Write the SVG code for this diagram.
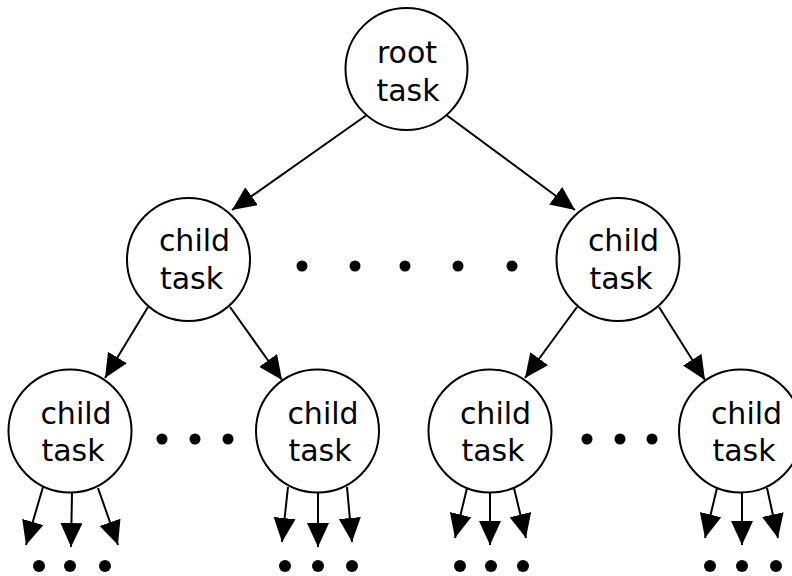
<svg xmlns="http://www.w3.org/2000/svg" width="792" height="576" viewBox="0 0 792 576">
  <style>
    .node circle { fill: #ffffff; stroke: #000000; stroke-width: 2; }
    .node text { font-family: "DejaVu Sans", "Liberation Sans", sans-serif; font-size: 30px; fill: #000000; text-anchor: middle; }
    .edges line { stroke: #000000; stroke-width: 2; marker-end: url(#arrow); }
    .dots circle { fill: #000000; }
  </style>
  <defs>
    <marker id="arrow" markerUnits="userSpaceOnUse" markerWidth="26" markerHeight="23" refX="24" refY="11" orient="auto">
      <path d="M0,0 L24,11 L0,22 z" fill="#000000"/>
    </marker>
  </defs>

  <rect width="792" height="576" fill="#ffffff"/>

  <!-- connectors -->
  <g id="edges" class="edges">
    <line x1="366" y1="115.5" x2="232" y2="210"/>
    <line x1="447" y1="115.5" x2="575" y2="210"/>
    <line x1="148" y1="307" x2="105" y2="378"/>
    <line x1="230" y1="307" x2="282" y2="380"/>
    <line x1="577" y1="307" x2="525" y2="378"/>
    <line x1="659" y1="307" x2="705" y2="380"/>
    <!-- fan-out below the bottom row -->
    <line x1="43" y1="487" x2="26" y2="545"/>
    <line x1="72" y1="493" x2="71" y2="547"/>
    <line x1="98" y1="488" x2="118" y2="545"/>
    <line x1="288" y1="487" x2="282" y2="542"/>
    <line x1="318" y1="493" x2="318" y2="547"/>
    <line x1="347" y1="487" x2="352" y2="542"/>
    <line x1="467" y1="488" x2="455" y2="538"/>
    <line x1="490" y1="493" x2="490" y2="545"/>
    <line x1="514" y1="488" x2="526" y2="538"/>
    <line x1="717" y1="488" x2="705" y2="538"/>
    <line x1="742" y1="493" x2="742" y2="545"/>
    <line x1="767" y1="488" x2="778" y2="538"/>
  </g>

  <!-- nodes -->
  <g id="root" class="node">
    <circle cx="406.5" cy="69" r="61"/>
    <text x="407" y="63">root</text>
    <text x="408" y="101">task</text>
  </g>
  <g id="child-1" class="node">
    <circle cx="188.5" cy="259.5" r="61.5"/>
    <text x="194.5" y="251">child</text>
    <text x="191.5" y="289">task</text>
  </g>
  <g id="child-2" class="node">
    <circle cx="618" cy="259.5" r="61.5"/>
    <text x="623.5" y="251">child</text>
    <text x="621" y="289">task</text>
  </g>
  <g id="child-1-1" class="node">
    <circle cx="70" cy="431" r="61.5"/>
    <text x="76" y="424">child</text>
    <text x="73" y="461">task</text>
  </g>
  <g id="child-1-2" class="node">
    <circle cx="317.5" cy="431" r="61.5"/>
    <text x="323" y="424">child</text>
    <text x="320" y="461">task</text>
  </g>
  <g id="child-2-1" class="node">
    <circle cx="490" cy="431" r="61.5"/>
    <text x="495.5" y="424">child</text>
    <text x="493" y="461">task</text>
  </g>
  <g id="child-2-2" class="node">
    <circle cx="740.5" cy="431" r="61.5"/>
    <text x="746.5" y="424">child</text>
    <text x="744" y="461">task</text>
  </g>

  <!-- ellipsis dots -->
  <g id="ellipses" class="dots">
    <circle cx="302" cy="266" r="5.5"/>
    <circle cx="355" cy="266" r="5.5"/>
    <circle cx="405" cy="266" r="5.5"/>
    <circle cx="458" cy="266" r="5.5"/>
    <circle cx="512" cy="266" r="5.5"/>
    <circle cx="162" cy="439" r="5.5"/>
    <circle cx="195" cy="439" r="5.5"/>
    <circle cx="228" cy="439" r="5.5"/>
    <circle cx="587" cy="439" r="5.5"/>
    <circle cx="620" cy="439" r="5.5"/>
    <circle cx="652" cy="439" r="5.5"/>
    <circle cx="39" cy="566" r="6"/>
    <circle cx="70" cy="566" r="6"/>
    <circle cx="105" cy="566" r="6"/>
    <circle cx="285" cy="566" r="6"/>
    <circle cx="318" cy="566" r="6"/>
    <circle cx="352" cy="566" r="6"/>
    <circle cx="460" cy="566" r="6"/>
    <circle cx="491" cy="566" r="6"/>
    <circle cx="523" cy="566" r="6"/>
    <circle cx="710" cy="566" r="6"/>
    <circle cx="742" cy="566" r="6"/>
    <circle cx="776" cy="566" r="6"/>
  </g>
</svg>
